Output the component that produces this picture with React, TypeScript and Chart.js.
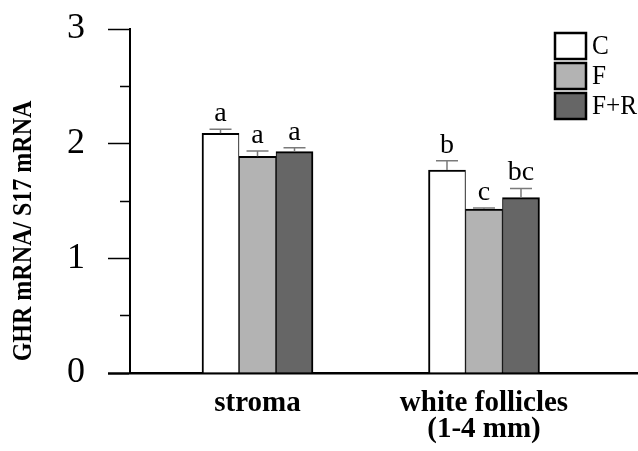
import React, { useEffect, useRef } from 'react';
import { Chart, registerables } from 'chart.js';

Chart.register(...registerables);

// ---- data ----
const categories: (string | string[])[] = ['stroma', ['white follicles', '(1-4 mm)']];
const categoryPositions = [1, 2];
const seriesNames = ['C', 'F', 'F+R'];
const seriesC = [2.09, 1.77];
const seriesF = [1.89, 1.43];
const seriesFR = [1.93, 1.53];
const errC = [0.035, 0.08];
const errF = [0.045, 0.01];
const errFR = [0.035, 0.08];
const lettersC = ['a', 'b'];
const lettersF = ['a', 'c'];
const lettersFR = ['a', 'bc'];
const yTitle = 'GHR mRNA/ S17 mRNA';
const yMin = 0;
const yMax = 3;
const yStep = 0.5;

const seriesValues = [seriesC, seriesF, seriesFR];
const seriesErrors = [errC, errF, errFR];
const seriesLetters = [lettersC, lettersF, lettersFR];
const seriesColors = ['#ffffff', '#b3b3b3', '#666666'];
const seriesBorders = [
  { top: 2, left: 2, right: 1, bottom: 0 },
  { top: 2, left: 1, right: 1, bottom: 0 },
  { top: 2, left: 1, right: 2, bottom: 0 },
];

const SERIF = '"Liberation Serif", "Times New Roman", serif';

const annotPlugin = {
  id: 'annot',
  afterDatasetsDraw(chart: any) {
    const ctx = chart.ctx as CanvasRenderingContext2D;
    const yScale = chart.scales.y;
    ctx.save();
    // error bars + letters
    chart.data.datasets.forEach((_ds: any, di: number) => {
      const meta = chart.getDatasetMeta(di);
      meta.data.forEach((el: any, i: number) => {
        const v = seriesValues[di][i];
        const e = seriesErrors[di][i];
        const capY = yScale.getPixelForValue(v + e);
        ctx.strokeStyle = '#7a7a7a';
        ctx.lineWidth = 1.5;
        ctx.beginPath();
        ctx.moveTo(el.x, el.y);
        ctx.lineTo(el.x, capY);
        ctx.moveTo(el.x - 11, capY);
        ctx.lineTo(el.x + 11, capY);
        ctx.stroke();
        ctx.fillStyle = '#000';
        ctx.font = `28px ${SERIF}`;
        ctx.textAlign = 'center';
        ctx.textBaseline = 'alphabetic';
        ctx.fillText(seriesLetters[di][i], el.x, capY - 8);
      });
    });
    // legend
    seriesNames.forEach((name, i) => {
      const bx = 555;
      const by = 33 + i * 30;
      ctx.fillStyle = seriesColors[i];
      ctx.fillRect(bx, by, 31, 26);
      ctx.strokeStyle = '#000';
      ctx.lineWidth = 2.5;
      ctx.strokeRect(bx, by, 31, 26);
      ctx.save();
      ctx.translate(592, by + 14);
      ctx.scale(0.9, 1);
      ctx.fillStyle = '#000';
      ctx.font = `28px ${SERIF}`;
      ctx.textAlign = 'left';
      ctx.textBaseline = 'middle';
      ctx.fillText(name, 0, 0);
      ctx.restore();
    });
    // y title
    ctx.translate(24, 231);
    ctx.rotate(-Math.PI / 2);
    ctx.scale(1, 1.15);
    ctx.font = `bold 24px ${SERIF}`;
    ctx.textAlign = 'center';
    ctx.textBaseline = 'middle';
    ctx.fillStyle = '#000';
    ctx.fillText(yTitle, 0, 0);
    ctx.restore();
  },
};

export default function App() {
  const ref = useRef<HTMLCanvasElement | null>(null);
  useEffect(() => {
    if (!ref.current) return;
    const chart = new Chart(ref.current, {
      type: 'bar',
      data: {
        datasets: seriesNames.map((name, di) => ({
          label: name,
          data: categoryPositions.map((x, i) => ({ x, y: seriesValues[di][i] })),
          backgroundColor: seriesColors[di],
          borderColor: '#000',
          borderWidth: seriesBorders[di],
          borderSkipped: false,
          barThickness: 37,
        })),
      },
      options: {
        animation: false,
        responsive: false,
        devicePixelRatio: 1,
        layout: { padding: { top: 29, left: 0, right: 0, bottom: 0 } },
        plugins: { legend: { display: false }, tooltip: { enabled: false } },
        scales: {
          x: {
            type: 'linear',
            offset: false,
            min: 0.437,
            max: 2.68,
            afterBuildTicks: (s: any) => {
              s.ticks = categoryPositions.map((v) => ({ value: v }));
            },
            ticks: {
              callback: (_v: any, i: number) => categories[i],
              font: { family: SERIF, size: 29, weight: 'bold', lineHeight: '26px' },
              color: '#000',
              padding: 18,
              maxRotation: 0,
              autoSkip: false,
            },
            grid: { display: true, offset: false, drawOnChartArea: false, drawTicks: false },
            border: { display: true, color: '#000', width: 2.5 },
            afterFit: (s: any) => {
              s.height = 78;
            },
          },
          y: {
            min: yMin,
            max: yMax,
            ticks: {
              stepSize: yStep,
              callback: (v: any) => (Number(v) % 1 === 0 ? String(v) : ''),
              font: { family: SERIF, size: 36, lineHeight: '2px' },
              color: '#000',
              padding: 23,
            },
            grid: {
              drawOnChartArea: false,
              tickLength: 22,
              tickColor: '#000',
              tickWidth: (c: any) => (c.tick && c.tick.value === 0 ? 2.5 : 1.5),
              tickBorderDash: (c: any) => (c.tick && c.tick.value % 1 !== 0 ? [0, 12, 10, 0] : []),
            },
            border: { color: '#000', width: 2 },
            afterFit: (s: any) => {
              s.width = 130;
            },
          },
        },
      },
      plugins: [annotPlugin],
    } as any);
    return () => chart.destroy();
  }, []);
  return (
    <div style={{ position: 'fixed', left: 0, top: 0, width: 638, height: 451, background: '#fff' }}>
      <canvas ref={ref} width={638} height={451} style={{ display: 'block' }} />
    </div>
  );
}
